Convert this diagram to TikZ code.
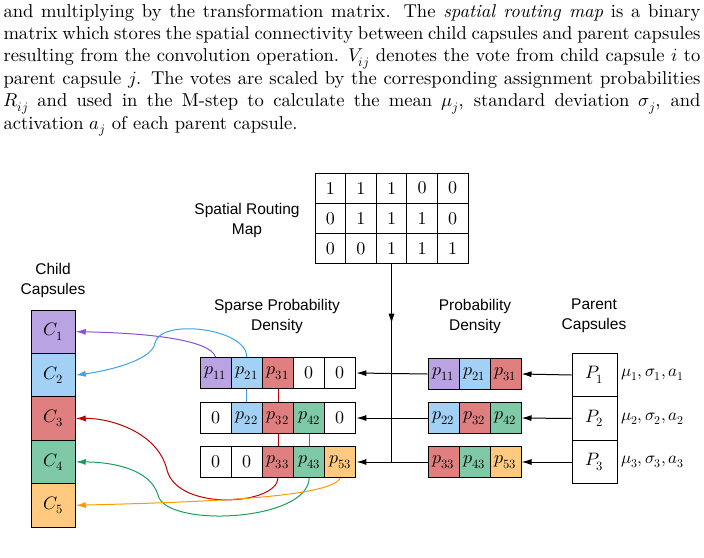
\documentclass[tikz,border=0pt]{standalone}
\usepackage{fontspec}
\usepackage{unicode-math}
\setmainfont{lmroman10}[Extension=.otf, UprightFont=*-regular, ItalicFont=*-italic, BoldFont=*-bold]
\setmathfont{Latin Modern Math}
\usetikzlibrary{calc,arrows.meta}
\newfontfamily\labfont{Liberation Sans}
\definecolor{cpurple}{RGB}{185,163,227}
\definecolor{cblue}{RGB}{163,208,245}
\definecolor{cred}{RGB}{224,127,127}
\definecolor{cgreen}{RGB}{127,201,166}
\definecolor{corange}{RGB}{255,201,127}
\definecolor{lpurple}{RGB}{138,79,214}
\definecolor{lblue}{RGB}{59,163,232}
\definecolor{lred}{RGB}{192,0,0}
\definecolor{lgreen}{RGB}{30,158,90}
\definecolor{lorange}{RGB}{255,153,0}
\tikzset{every picture/.style={line width=1pt}}
\tikzset{
  cell/.style={draw, line width=1pt, minimum width=31, minimum height=31, inner sep=0pt, font=\fontsize{18}{20}\selectfont},
  lab/.style={align=center, font=\labfont\fontsize{15.5}{20}\selectfont},
  arr/.style={-{Latex[length=10pt,width=6pt]}},
  link/.style={line width=1pt, -{Latex[length=10pt,width=6pt]}}
}
\begin{document}
\begin{tikzpicture}[x=1pt,y=1pt,yscale=-1,xscale=1]
\useasboundingbox (0,0) rectangle (704,557);
\clip (0,0) rectangle (704,557);

% Paragraph
\node (para) [anchor=base west, inner sep=0pt, text width=697, align=justify, font=\fontsize{18.6}{22.4}\selectfont] at (3,17)
{and multiplying by the transformation matrix. The \emph{spatial routing map} is a binary\linebreak
matrix which stores the spatial connectivity between child capsules and parent capsules\linebreak
resulting from the convolution operation. $V_{ij}$ denotes the vote from child capsule $i$ to\linebreak
parent capsule $j$. The votes are scaled by the corresponding assignment probabilities\linebreak
$R_{ij}$ and used in the M-step to calculate the mean $\mu_j$, standard deviation $\sigma_j$, and\linebreak
activation $a_j$ of each parent capsule.};

% Spatial routing map
\foreach \r/\vals in {1/{1,1,1,0,0},2/{0,1,1,1,0},3/{0,0,1,1,1}}{
  \foreach \v [count=\c] in \vals
    \node (m\r\c) [cell, minimum width=30.6, minimum height=30.3] at (315+30.6*\c-15.3, 173+30.3*\r-15.15) {\v};
}
\node (maplab) [lab] at (247,220) {Spatial Routing\\Map};

% Child capsules
\foreach \c/\col in {1/cpurple,2/cblue,3/cred,4/cgreen,5/corange}
  \node (c\c) [cell, fill=\col, minimum width=43.5, minimum height=43.4] at (53.5, 310+43.4*\c-21.7) {$C_{\c}$};
\node (childlab) [lab] at (53,280) {Child\\Capsules};

% Sparse probability density
\foreach \r/\y/\row in {1/373/{cpurple/$p_{11}$,cblue/$p_{21}$,cred/$p_{31}$,white/$0$,white/$0$},
                        2/418/{white/$0$,cblue/$p_{22}$,cred/$p_{32}$,cgreen/$p_{42}$,white/$0$},
                        3/462/{white/$0$,white/$0$,cred/$p_{33}$,cgreen/$p_{43}$,corange/$p_{53}$}}{
  \foreach \col/\txt [count=\c] in \row
    \node (s\r\c) [cell, fill=\col] at (200+31.2*\c-15.6,\y) {\txt};
}
\node (sparselab) [lab] at (277,316) {Sparse Probability\\Density};

% Probability density
\foreach \r/\y/\a/\b/\cc/\ca/\cb/\ccc in {1/374/11/21/31/cpurple/cblue/cred,2/418/22/32/42/cblue/cred/cgreen,3/462/33/43/53/cred/cgreen/corange}{
  \node (q\r1) [cell, fill=\ca] at (443.5,\y) {$p_{\a}$};
  \node (q\r2) [cell, fill=\cb] at (474.5,\y) {$p_{\b}$};
  \node (q\r3) [cell, fill=\ccc] at (505.5,\y) {$p_{\cc}$};
}
\node (problab) [lab] at (475,316) {Probability\\Density};

% Parent capsules
\foreach \r/\y in {1/375,2/418.5,3/462}{
  \node (pp\r) [cell, minimum width=45, minimum height=43.5] at (594.5,\y) {$P_{\r}$};
  \node (st\r) [anchor=west, inner sep=3pt, font=\fontsize{17}{19}\selectfont] at (pp\r.east) {$\mu_{\r},\sigma_{\r},a_{\r}$};
  \draw [arr] (pp\r.west) -- (q\r3.east);
  \draw [arr] (q\r1.west) -- (s\r5.east);
}
\node (parentlab) [lab] at (594,316) {Parent\\Capsules};

% Routing map feed
\coordinate (fork) at (m33.south |- s35.east);
\draw (m33.south) -- (fork);
\draw [arr] (m33.south) -- ($(m33.south)!0.3!(fork)$);

% Links between rows
\draw [lblue] (s12.south) -- (s22.north);
\draw [lred] (s13.south) -- (s23.north);
\draw [lred] (s23.south) -- (s33.north);
\draw [lgreen] (s24.south) -- (s34.north);

% Votes back to child capsules
\draw [link, lpurple] (s11.north) .. controls (210,340) and (150,333) .. (c1.east);
\draw [link, lblue] (s12.north) .. controls (247,328) and (160,318) .. (155,343) .. controls (152,362) and (100,372) .. (c2.east);
\draw [link, lred] (s33.south) .. controls (277,505) and (178,512) .. (167,470) .. controls (158,432) and (110,418) .. (c3.east);
\draw [link, lgreen] (s34.south) .. controls (308,522) and (165,528) .. (158,495) .. controls (150,468) and (110,462) .. (c4.east);
\draw [link, lorange] (s35.south) .. controls (330,498) and (200,502) .. (c5.east);
\end{tikzpicture}
\end{document}
